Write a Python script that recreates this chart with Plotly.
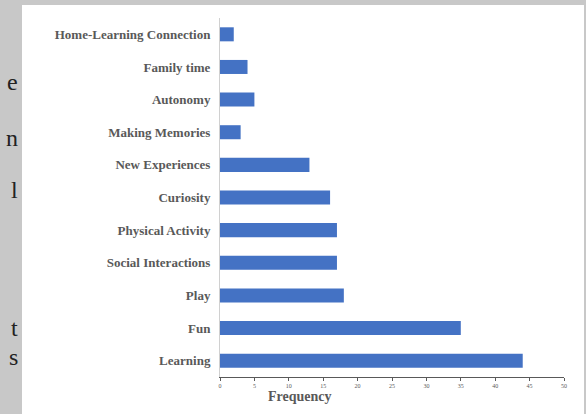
import plotly.graph_objects as go

categories = ["Learning", "Fun", "Play", "Social Interactions", "Physical Activity",
              "Curiosity", "New Experiences", "Making Memories", "Autonomy",
              "Family time", "Home-Learning Connection"]
frequency = [44, 35, 18, 17, 17, 16, 13, 3, 5, 4, 2]
x_ticks = [0, 5, 10, 15, 20, 25, 30, 35, 40, 45, 50]

W, H = 586, 414
ml, mr, mt, mb = 220, 22, 18, 37

fig = go.Figure(go.Bar(
    y=categories, x=frequency, orientation="h",
    marker=dict(color="#4472C4", line=dict(width=0)),
))

fig.update_layout(
    width=W, height=H,
    margin=dict(l=ml, r=mr, t=mt, b=mb),
    paper_bgcolor="#c8c8c8",
    plot_bgcolor="white",
    bargap=0.57,
    showlegend=False,
    font=dict(family="Liberation Serif", color="#595959"),
    xaxis=dict(
        range=[0, 50], tickvals=x_ticks, ticktext=[str(v) for v in x_ticks],
        showgrid=False, zeroline=False,
        showline=True, linecolor="#595959", linewidth=1,
        ticks="outside", ticklen=3, tickcolor="#595959",
        tickfont=dict(size=6, color="#595959", family="Liberation Serif"),
        fixedrange=True,
    ),
    yaxis=dict(
        categoryorder="array", categoryarray=categories,
        range=[-0.5, len(categories) - 0.5],
        showgrid=False, zeroline=False,
        showline=True, linecolor="#d0d0d0", linewidth=1,
        ticks="", ticklabelstandoff=6,
        tickfont=dict(size=13, color="#595959", family="Liberation Serif", weight="bold"),
        fixedrange=True,
    ),
    shapes=[
        dict(type="rect", xref="paper", yref="paper",
             x0=(22 - ml) / (W - ml - mr), x1=(584 - ml) / (W - ml - mr),
             y0=(0 - mb) / (H - mt - mb) - 0.01, y1=(H - 5 - mb) / (H - mt - mb),
             fillcolor="white", line=dict(width=0), layer="below"),
    ],
)

pw = W - ml - mr
ph = H - mt - mb

def px_x(x):
    return (x - ml) / pw

def px_y(y):
    return (H - mb - y) / ph

annotations = [
    dict(text="<b>Frequency</b>", x=px_x(300), y=px_y(396), xref="paper", yref="paper",
         showarrow=False, font=dict(size=14, color="#595959", family="Liberation Serif"),
         xanchor="center", yanchor="middle"),
]
side_letters = [("e", 82), ("n", 138), ("l", 190), ("t", 328), ("s", 357)]
for ch, yy in side_letters:
    annotations.append(dict(text=ch, x=px_x(20), y=px_y(yy), xref="paper", yref="paper",
                            showarrow=False, xanchor="right", yanchor="middle",
                            font=dict(size=24, color="#222222", family="Liberation Serif")))
fig.update_layout(annotations=annotations)

fig.write_html("out.html")
